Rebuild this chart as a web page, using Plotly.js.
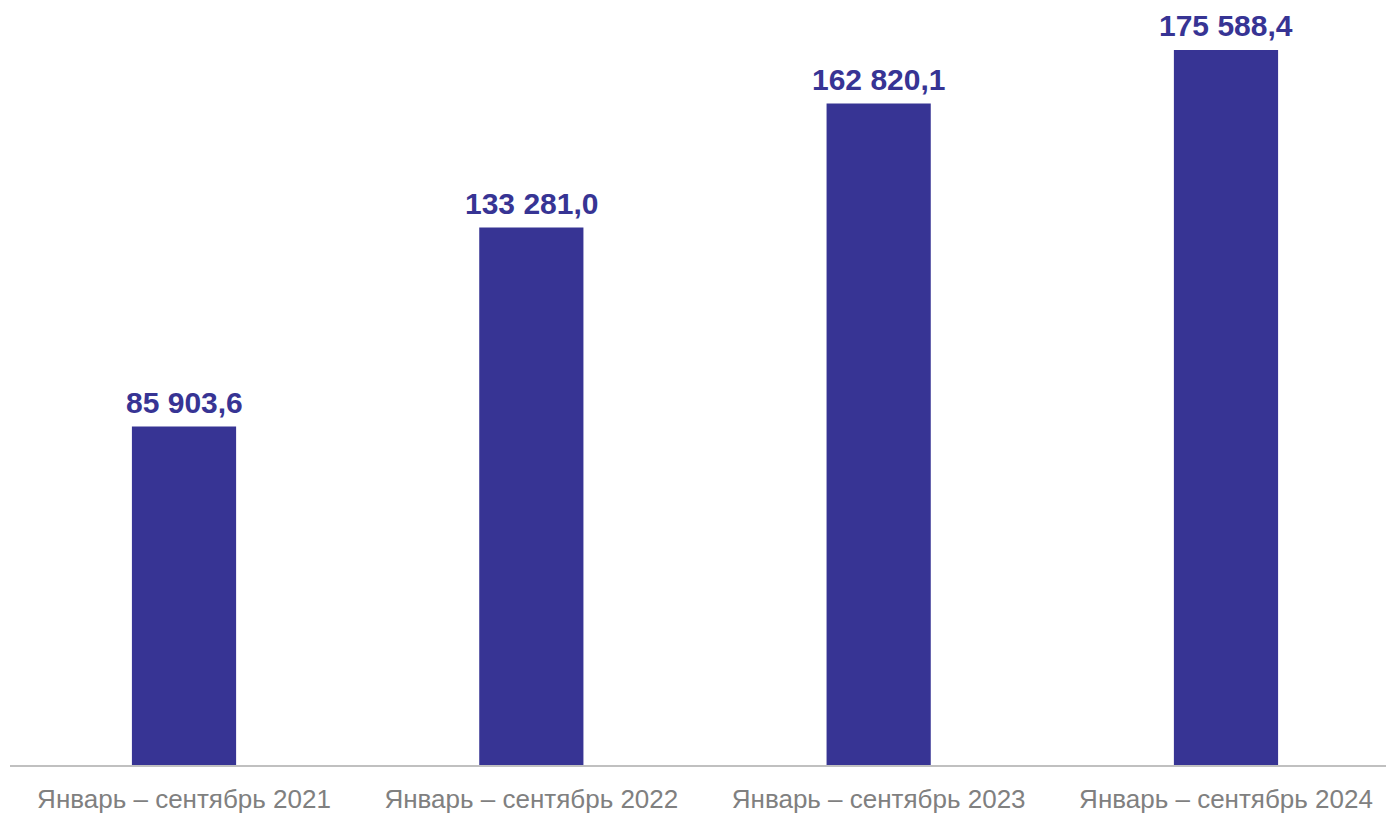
<!DOCTYPE html>
<html>
<head>
<meta charset="utf-8">
<script src="https://cdn.plot.ly/plotly-3.0.1.min.js"></script>
<style>html,body{margin:0;padding:0;background:#fff;}#chart{width:1386px;height:813px;}</style>
</head>
<body>
<div id="chart"></div>
<script>
const categories = ["Январь – сентябрь 2021", "Январь – сентябрь 2022", "Январь – сентябрь 2023", "Январь – сентябрь 2024"];
const values = [85903.6, 133281.0, 162820.1, 175588.4];
const labels = ["85 903,6", "133 281,0", "162 820,1", "175 588,4"];

const trace = {
  type: "bar",
  x: [0, 1, 2, 3],
  y: values,
  width: 0.3,
  marker: {color: "#373494"},
  hoverinfo: "skip"
};

const annotations = values.map((v, i) => ({
  x: i, y: v, xref: "x", yref: "y",
  text: labels[i], showarrow: false,
  yanchor: "bottom", yshift: 6,
  font: {family: "Liberation Sans, Arial, sans-serif", size: 30, color: "#373494", weight: "bold"}
}));

const layout = {
  width: 1386, height: 813,
  margin: {l: 10, r: 0, t: 0, b: 48},
  paper_bgcolor: "#fff", plot_bgcolor: "#fff",
  showlegend: false,
  annotations: annotations,
  xaxis: {
    range: [-0.501, 3.4607],
    tickmode: "array", tickvals: [0, 1, 2, 3], ticktext: categories,
    showline: true, linecolor: "#c0c0c0", linewidth: 2,
    showgrid: false, zeroline: false, ticks: "",
    ticklabelstandoff: 10,
    tickfont: {family: "Liberation Sans, Arial, sans-serif", size: 26, color: "#808080"},
    fixedrange: true
  },
  yaxis: {
    range: [5285, 187486],
    visible: false, showgrid: false, zeroline: false, fixedrange: true
  }
};

Plotly.newPlot("chart", [trace], layout, {displayModeBar: false, staticPlot: true});
</script>
</body>
</html>
